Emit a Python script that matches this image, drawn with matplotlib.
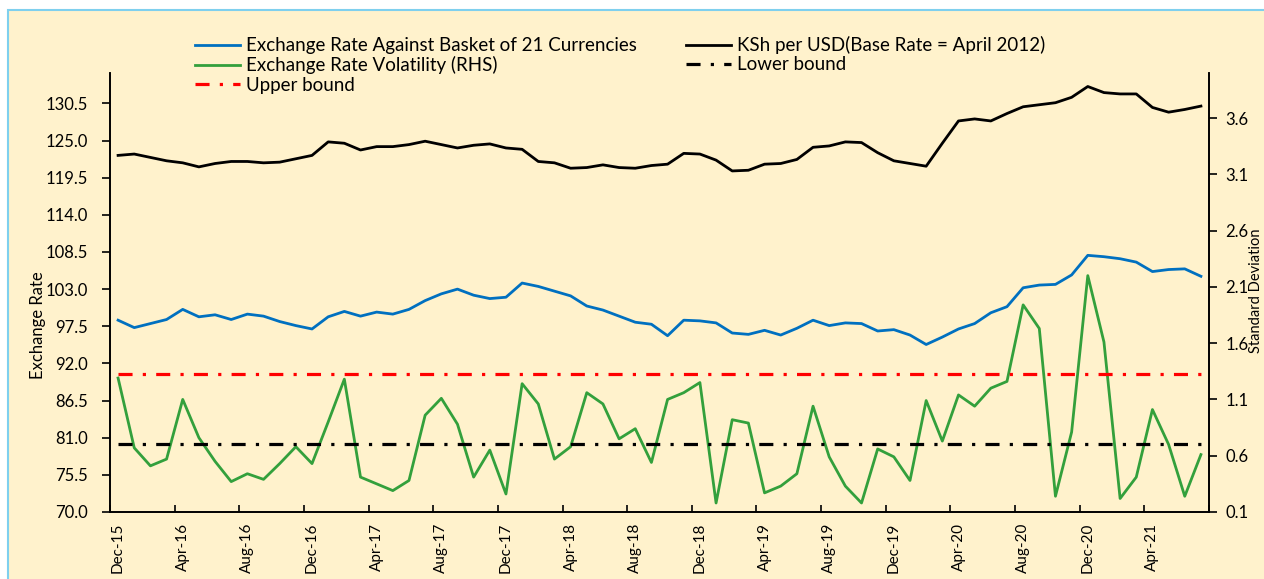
import numpy as np
import pandas as pd
import matplotlib
matplotlib.use("Agg")
import matplotlib.pyplot as plt
from matplotlib.patches import Rectangle

# monthly categories Dec-15 .. Jul-21
months = pd.date_range("2015-12-01", periods=68, freq="MS").strftime("%b-%y").tolist()

basket = [98.4, 97.3, 97.9, 98.5, 100.0, 98.9, 99.2, 98.5, 99.3, 99.0, 98.2, 97.6, 97.1, 98.9, 99.7, 99.0, 99.6,
          99.3, 100.0, 101.3, 102.3, 103.0, 102.1, 101.6, 101.8, 103.9, 103.4, 102.7, 102.0, 100.5, 99.9, 99.0, 98.1, 97.8,
          96.1, 98.4, 98.3, 98.0, 96.5, 96.3, 96.9, 96.2, 97.2, 98.4, 97.6, 98.0, 97.9, 96.8, 97.0, 96.2, 94.8,
          95.9, 97.1, 97.9, 99.5, 100.4, 103.2, 103.6, 103.7, 105.1, 108.0, 107.8, 107.5, 107.0, 105.6, 105.9, 106.0, 104.9]

ksh_usd = [122.8, 123.0, 122.5, 122.0, 121.7, 121.1, 121.6, 121.9, 121.9, 121.7, 121.8, 122.3, 122.8, 124.8, 124.6, 123.6, 124.1,
           124.1, 124.4, 124.9, 124.4, 123.9, 124.3, 124.5, 123.9, 123.7, 121.9, 121.7, 120.9, 121.0, 121.4, 121.0, 120.9, 121.3,
           121.5, 123.1, 123.0, 122.1, 120.5, 120.6, 121.5, 121.6, 122.2, 124.0, 124.2, 124.8, 124.7, 123.2, 122.0, 121.6, 121.2,
           124.6, 127.9, 128.2, 127.9, 129.0, 130.0, 130.3, 130.6, 131.4, 133.0, 132.1, 131.9, 131.9, 129.9, 129.2, 129.6, 130.1]

volatility = [1.29, 0.67, 0.51, 0.57, 1.10, 0.76, 0.55, 0.37, 0.44, 0.39, 0.53, 0.68, 0.53, 0.90, 1.28, 0.41, 0.35,
              0.29, 0.38, 0.96, 1.11, 0.88, 0.41, 0.65, 0.26, 1.24, 1.06, 0.57, 0.68, 1.16, 1.06, 0.75, 0.84, 0.54,
              1.10, 1.16, 1.25, 0.18, 0.92, 0.89, 0.27, 0.33, 0.44, 1.04, 0.59, 0.33, 0.18, 0.66, 0.59, 0.38, 1.09,
              0.73, 1.14, 1.04, 1.20, 1.26, 1.94, 1.73, 0.24, 0.81, 2.20, 1.61, 0.22, 0.41, 1.01, 0.70, 0.24, 0.61]

upper_bound = 1.33
lower_bound = 0.70

left_ticks = [70.0, 75.5, 81.0, 86.5, 92.0, 97.5, 103.0, 108.5, 114.0, 119.5, 125.0, 130.5]
right_ticks = [0.1, 0.6, 1.1, 1.6, 2.1, 2.6, 3.1, 3.6]

plt.rcParams["font.family"] = ["Lato", "DejaVu Sans"]
plt.rcParams["font.size"] = 12

cream = "#FFF2CC"
fig = plt.figure(figsize=(12.64, 5.79), dpi=100)
fig.patches.append(Rectangle((8 / 1264, -0.1), 1.1, 1.1 - 10 / 579, transform=fig.transFigure,
                             facecolor=cream, edgecolor="#7FD0EE", linewidth=1.5, zorder=-10))

ax = fig.add_axes([110 / 1264, 67 / 579, 1099 / 1264, 439 / 579])
ax.patch.set_alpha(0)
ax2 = ax.twinx()
ax2.patch.set_alpha(0)

x = np.arange(len(months))
lb, = ax.plot(x, basket, color="#0070C0", lw=2.0, label="Exchange Rate Against Basket of 21 Currencies")
lk, = ax.plot(x, ksh_usd, color="black", lw=2.0, label="KSh per USD(Base Rate = April 2012)")
lv, = ax2.plot(x, volatility, color="#33A03C", lw=2.0, label="Exchange Rate Volatility (RHS)")
lu, = ax2.plot(x, np.full(len(x), upper_bound), color="#FF0000", lw=2.3,
               dashes=(4.4, 3.2, 1.0, 3.2), label="Upper bound")
ll, = ax2.plot(x, np.full(len(x), lower_bound), color="black", lw=2.3,
               dashes=(4.4, 3.2, 1.0, 3.2), label="Lower bound")

ax.set_xlim(-0.5, len(months) - 0.5)
ax.set_ylim(70, 135)
ax2.set_ylim(0.1, 4.0)
ax.set_yticks(left_ticks)
ax.set_yticklabels([f"{v:.1f}" for v in left_ticks])
ax2.set_yticks(right_ticks)
ax2.set_yticklabels([f"{v:.1f}" for v in right_ticks])

ax.set_xticks(np.arange(-0.5, len(months), 4))
ax.set_xticklabels([])
ax.set_xticks(x[::4], minor=True)
ax.set_xticklabels(months[::4], minor=True, rotation=90)
ax.tick_params(axis="x", which="major", direction="in", length=5, width=1.2)
ax.tick_params(axis="x", which="minor", length=0, pad=8, labelsize=11)
ax.tick_params(axis="y", direction="out", length=6, width=1.2, pad=10, labelsize=12)
ax2.tick_params(axis="y", direction="out", length=6, width=1.2, pad=6, labelsize=12)

for a in (ax, ax2):
    a.spines["top"].set_visible(False)
    for s in ("left", "right", "bottom"):
        a.spines[s].set_linewidth(1.2)

fig.text(38 / 1264, 1 - 325 / 579, "Exchange Rate", rotation=90, ha="center", va="center", fontsize=12)
fig.text(1263 / 1264, 1 - 291 / 579, "Standard Deviation", rotation=90, ha="right", va="center", fontsize=10.5)

fig.legend(handles=[lb, lv, lu, lk, ll], ncol=2, loc="upper left", frameon=False,
           bbox_to_anchor=(195 / 1264, 1 - 36 / 579), borderpad=0, borderaxespad=0,
           handlelength=2.4, handletextpad=0.32, columnspacing=2.62, labelspacing=0.12, fontsize=13.5)

fig.savefig("out.png", dpi=100, facecolor="white")
